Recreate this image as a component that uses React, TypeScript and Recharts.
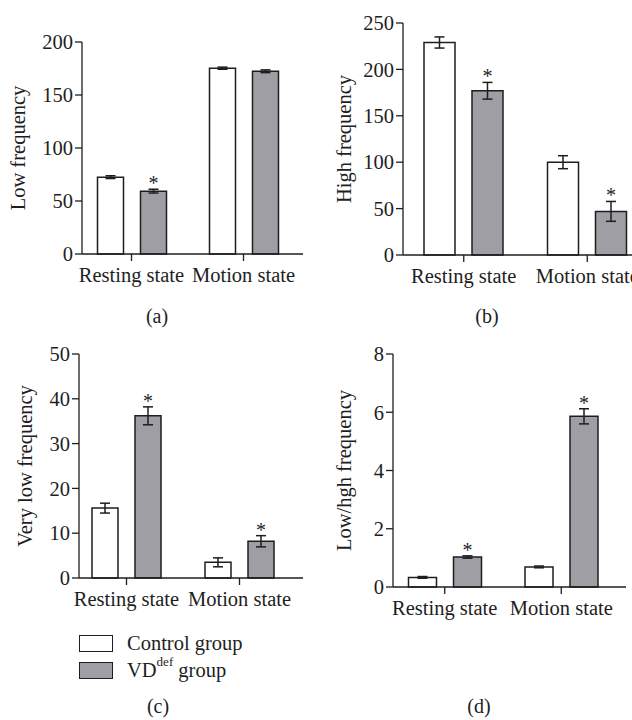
import { Bar, BarChart, ErrorBar, LabelList, XAxis, YAxis, Label } from 'recharts'

const groups = ['Resting state', 'Motion state']

const lowControl = [72.5, 175.3]
const lowControlErr = [1.3, 1]
const lowVd = [59.3, 172.4]
const lowVdErr = [1.8, 1.3]
const lowStars = [true, false]
const lowTicks = [0, 50, 100, 150, 200]

const highControl = [229, 100]
const highControlErr = [6, 7]
const highVd = [177, 47]
const highVdErr = [9, 10.7]
const highStars = [true, true]
const highTicks = [0, 50, 100, 150, 200, 250]

const vlfControl = [15.6, 3.5]
const vlfControlErr = [1.1, 1]
const vlfVd = [36.2, 8.2]
const vlfVdErr = [2, 1.25]
const vlfStars = [true, true]
const vlfTicks = [0, 10, 20, 30, 40, 50]

const ratioControl = [0.33, 0.69]
const ratioControlErr = [0.03, 0.03]
const ratioVd = [1.03, 5.86]
const ratioVdErr = [0.04, 0.26]
const ratioStars = [true, true]
const ratioTicks = [0, 2, 4, 6, 8]

const FONT = '"Liberation Serif", "DejaVu Serif", serif'
const INK = '#1e1e1e'
const GRAY = '#9e9ea4'
const FS = 20.5

interface PanelProps {
  left: number
  top: number
  width: number
  height: number
  margin: { top: number; right: number; bottom: number; left: number }
  yWidth: number
  pad: { left: number; right: number }
  control: number[]
  controlErr: number[]
  vd: number[]
  vdErr: number[]
  stars: boolean[]
  ticks: number[]
  label: string
  labelOffset: number
}

function Panel(p: PanelProps) {
  const data = groups.map((g, i) => ({
    group: g,
    control: p.control[i],
    controlErr: p.controlErr[i],
    vd: p.vd[i],
    vdErr: p.vdErr[i],
  }))

  // asterisk sits just above the top whisker of the VD bar
  const renderStar = (props: any) => {
    const { x, y, width, height, value, index } = props
    if (!p.stars[index]) return null
    const pxPerUnit = height / value
    const capY = y - p.vdErr[index] * pxPerUnit
    return (
      <text x={x + width / 2} y={capY + 1} textAnchor="middle" fontSize={20} fontFamily={FONT} fill={INK}>
        *
      </text>
    )
  }

  return (
    <div style={{ position: 'absolute', left: p.left, top: p.top }}>
      <BarChart
        width={p.width}
        height={p.height}
        data={data}
        margin={p.margin}
        barGap={17}
        barCategoryGap={22}
      >
        <XAxis
          dataKey="group"
          padding={p.pad}
          height={60}
          tickSize={7}
          tickMargin={6}
          axisLine={{ stroke: INK, strokeWidth: 1.3 }}
          tickLine={{ stroke: INK, strokeWidth: 1.3 }}
          tick={{ fill: INK, fontSize: FS, fontFamily: FONT }}
          interval={0}
        />
        <YAxis
          domain={[p.ticks[0], p.ticks[p.ticks.length - 1]]}
          ticks={p.ticks}
          width={p.yWidth}
          tickSize={7}
          tickMargin={2}
          axisLine={{ stroke: INK, strokeWidth: 1.3 }}
          tickLine={{ stroke: INK, strokeWidth: 1.3 }}
          tick={{ fill: INK, fontSize: FS, fontFamily: FONT }}
          interval={0}
        >
          <Label
            value={p.label}
            angle={-90}
            position="insideLeft"
            offset={p.labelOffset}
            style={{ textAnchor: 'middle', fill: INK, fontSize: FS, fontFamily: FONT }}
          />
        </YAxis>
        <Bar dataKey="control" fill="#ffffff" stroke={INK} strokeWidth={1.5} isAnimationActive={false}>
          <ErrorBar dataKey="controlErr" width={5} stroke={INK} strokeWidth={1.5} direction="y" />
        </Bar>
        <Bar dataKey="vd" fill={GRAY} stroke={INK} strokeWidth={1.5} isAnimationActive={false}>
          <ErrorBar dataKey="vdErr" width={5} stroke={INK} strokeWidth={1.5} direction="y" />
          <LabelList dataKey="vd" content={renderStar} />
        </Bar>
      </BarChart>
    </div>
  )
}

const caption = (text: string, x: number, y: number) => (
  <div
    style={{
      position: 'absolute',
      left: x - 30,
      top: y - 12,
      width: 60,
      textAlign: 'center',
      fontFamily: FONT,
      fontSize: 20,
      color: INK,
      lineHeight: '24px',
    }}
  >
    {text}
  </div>
)

export default function App() {
  return (
    <div
      style={{
        position: 'absolute',
        left: 0,
        top: 0,
        width: 632,
        height: 720,
        overflow: 'hidden',
        background: '#fff',
      }}
    >
      <Panel
        left={0}
        top={0}
        width={316}
        height={314}
        margin={{ top: 42, right: 13, bottom: 0, left: 0 }}
        yWidth={82}
        pad={{ left: -6.5, right: 3.5 }}
        control={lowControl}
        controlErr={lowControlErr}
        vd={lowVd}
        vdErr={lowVdErr}
        stars={lowStars}
        ticks={lowTicks}
        label="Low frequency"
        labelOffset={18}
      />
      <Panel
        left={316}
        top={0}
        width={340}
        height={315}
        margin={{ top: 23, right: 7, bottom: 0, left: 0 }}
        yWidth={87}
        pad={{ left: -1, right: 0 }}
        control={highControl}
        controlErr={highControlErr}
        vd={highVd}
        vdErr={highVdErr}
        stars={highStars}
        ticks={highTicks}
        label="High frequency"
        labelOffset={28}
      />
      <Panel
        left={0}
        top={310}
        width={316}
        height={328}
        margin={{ top: 44, right: 13, bottom: 0, left: 0 }}
        yWidth={79}
        pad={{ left: -9, right: 7 }}
        control={vlfControl}
        controlErr={vlfControlErr}
        vd={vlfVd}
        vdErr={vlfVdErr}
        stars={vlfStars}
        ticks={vlfTicks}
        label="Very low frequency"
        labelOffset={25}
      />
      <Panel
        left={316}
        top={310}
        width={316}
        height={337}
        margin={{ top: 44, right: 6, bottom: 0, left: 0 }}
        yWidth={77}
        pad={{ left: -6.5, right: 6.5 }}
        control={ratioControl}
        controlErr={ratioControlErr}
        vd={ratioVd}
        vdErr={ratioVdErr}
        stars={ratioStars}
        ticks={ratioTicks}
        label="Low/hgh frequency"
        labelOffset={28}
      />

      {/* legend */}
      <div style={{ position: 'absolute', left: 79, top: 635, fontFamily: FONT, fontSize: 20.5, color: INK }}>
        <div style={{ display: 'flex', alignItems: 'center', height: 17 }}>
          <span style={{ width: 32, height: 15, border: `1.5px solid ${INK}`, background: '#fff' }} />
          <span style={{ marginLeft: 14 }}>Control group</span>
        </div>
        <div style={{ display: 'flex', alignItems: 'center', height: 17, marginTop: 10 }}>
          <span style={{ width: 32, height: 15, border: `1.5px solid ${INK}`, background: GRAY }} />
          <span style={{ marginLeft: 14 }}>
            VD<sup style={{ fontSize: 13, verticalAlign: 'top', position: 'relative', top: -5 }}>def</sup> group
          </span>
        </div>
      </div>

      {caption('(a)', 157, 316)}
      {caption('(b)', 487, 316)}
      {caption('(c)', 158, 706)}
      {caption('(d)', 479, 706)}
    </div>
  )
}
